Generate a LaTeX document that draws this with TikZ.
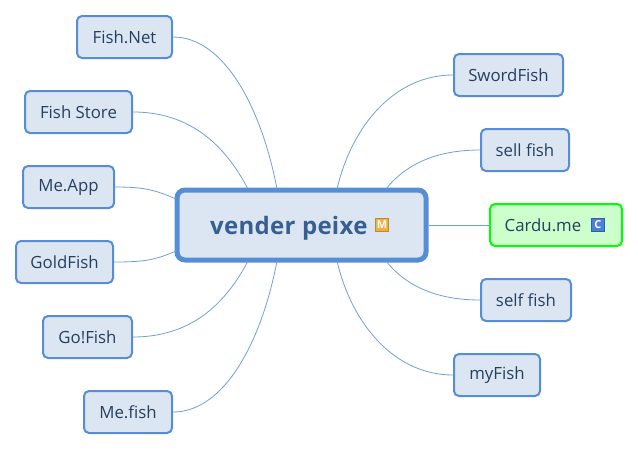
\documentclass[tikz,border=0pt]{standalone}
\usepackage{fontspec}
\setmainfont{Open Sans}
\definecolor{edgeblue}{HTML}{558ED5}
\definecolor{fillblue}{HTML}{DCE6F2}
\definecolor{txt}{HTML}{253F5F}
\definecolor{ctitle}{HTML}{376092}
\definecolor{gfill}{HTML}{CCFFCC}
\definecolor{gedge}{HTML}{00FF00}
\definecolor{cbadge}{HTML}{4A7FDB}
\definecolor{cbord}{HTML}{2F5FB5}
\definecolor{mbadge}{HTML}{F0B040}
\definecolor{mbord}{HTML}{C08A30}
\tikzset{x=1pt,y=-1pt,
 topic/.style={draw=edgeblue,fill=fillblue,line width=2pt,rounded corners=5pt,text=txt,font=\fontsize{16.8}{18}\selectfont,inner sep=0pt,minimum height=42pt},
 centre/.style={draw=edgeblue,fill=fillblue,line width=5pt,rounded corners=8pt,inner sep=0pt,minimum width=249pt,minimum height=70pt},
 green/.style={topic,draw=gedge,fill=gfill},
 link/.style={draw=edgeblue!85!white,line width=0.8pt},
 badge/.style={line width=1pt,inner sep=0pt,minimum size=13pt,text=white,font=\fontsize{11}{11}\selectfont\bfseries}}
\begin{document}
\begin{tikzpicture}
\useasboundingbox (0,0) rectangle (638,450);
\coordinate (tl) at (248,189); \coordinate (tm) at (277,189);
\coordinate (bl) at (248,261); \coordinate (bm) at (277,261);
\coordinate (trm) at (337,189); \coordinate (tr) at (386,189);
\coordinate (brm) at (337,261); \coordinate (br) at (386,261);
\coordinate (lu) at (176,199); \coordinate (ld) at (176,251);
\node[topic,minimum width=95pt] (a1) at (124.5,37) {Fish.Net};
\node[topic,minimum width=107pt] (a2) at (78.5,112) {Fish Store};
\node[topic,minimum width=91pt] (a3) at (68.5,187) {Me.App};
\node[topic,minimum width=97pt] (a4) at (64.5,262) {GoldFish};
\node[topic,minimum width=89pt] (a5) at (87.5,337) {Go!Fish};
\node[topic,minimum width=88pt] (a6) at (128,412) {Me.fish};
\node[topic,minimum width=109pt] (b1) at (508.5,75) {SwordFish};
\node[topic,minimum width=88pt] (b2) at (525,150) {sell fish};
\node[topic,minimum width=90pt] (b4) at (526,300) {self fish};
\node[topic,minimum width=86pt] (b5) at (497,375) {myFish};
\node[green,minimum width=132pt] (b3) at (556,225) {};
\node[text=txt,font=\fontsize{16.8}{18}\selectfont,anchor=base west,inner sep=0pt] (b3t) at (504.5,231) {Cardu.me};
\node[badge,draw=cbord,fill=cbadge] (cb) at (598,225) {C};
\node[centre] (c) at (301.5,225) {};
\node[text=ctitle,font=\fontsize{24}{26}\selectfont\bfseries\addfontfeature{LetterSpace=1.2},anchor=base west,inner sep=0pt] (ct) at (210,234) {vender peixe};
\node[badge,draw=mbord,fill=mbadge] (mb) at (382,225) {M};
\draw[link] (a1.east) .. controls (225,37) and (262,110) .. (tm);
\draw[link] (a2.east) .. controls (190,112) and (225,145) .. (tl);
\draw[link] (a3.east) .. controls (145,187) and (155,190) .. (lu);
\draw[link] (a4.east) .. controls (145,262) and (155,260) .. (ld);
\draw[link] (a5.east) .. controls (190,337) and (225,305) .. (bl);
\draw[link] (a6.east) .. controls (225,412) and (262,340) .. (bm);
\draw[link] (b1.west) .. controls (395,75) and (352,125) .. (trm);
\draw[link] (b2.west) .. controls (435,150) and (405,165) .. (tr);
\draw[link] (b3.west) -- (c.east);
\draw[link] (b4.west) .. controls (435,300) and (405,285) .. (br);
\draw[link] (b5.west) .. controls (395,375) and (352,325) .. (brm);
\end{tikzpicture}
\end{document}
